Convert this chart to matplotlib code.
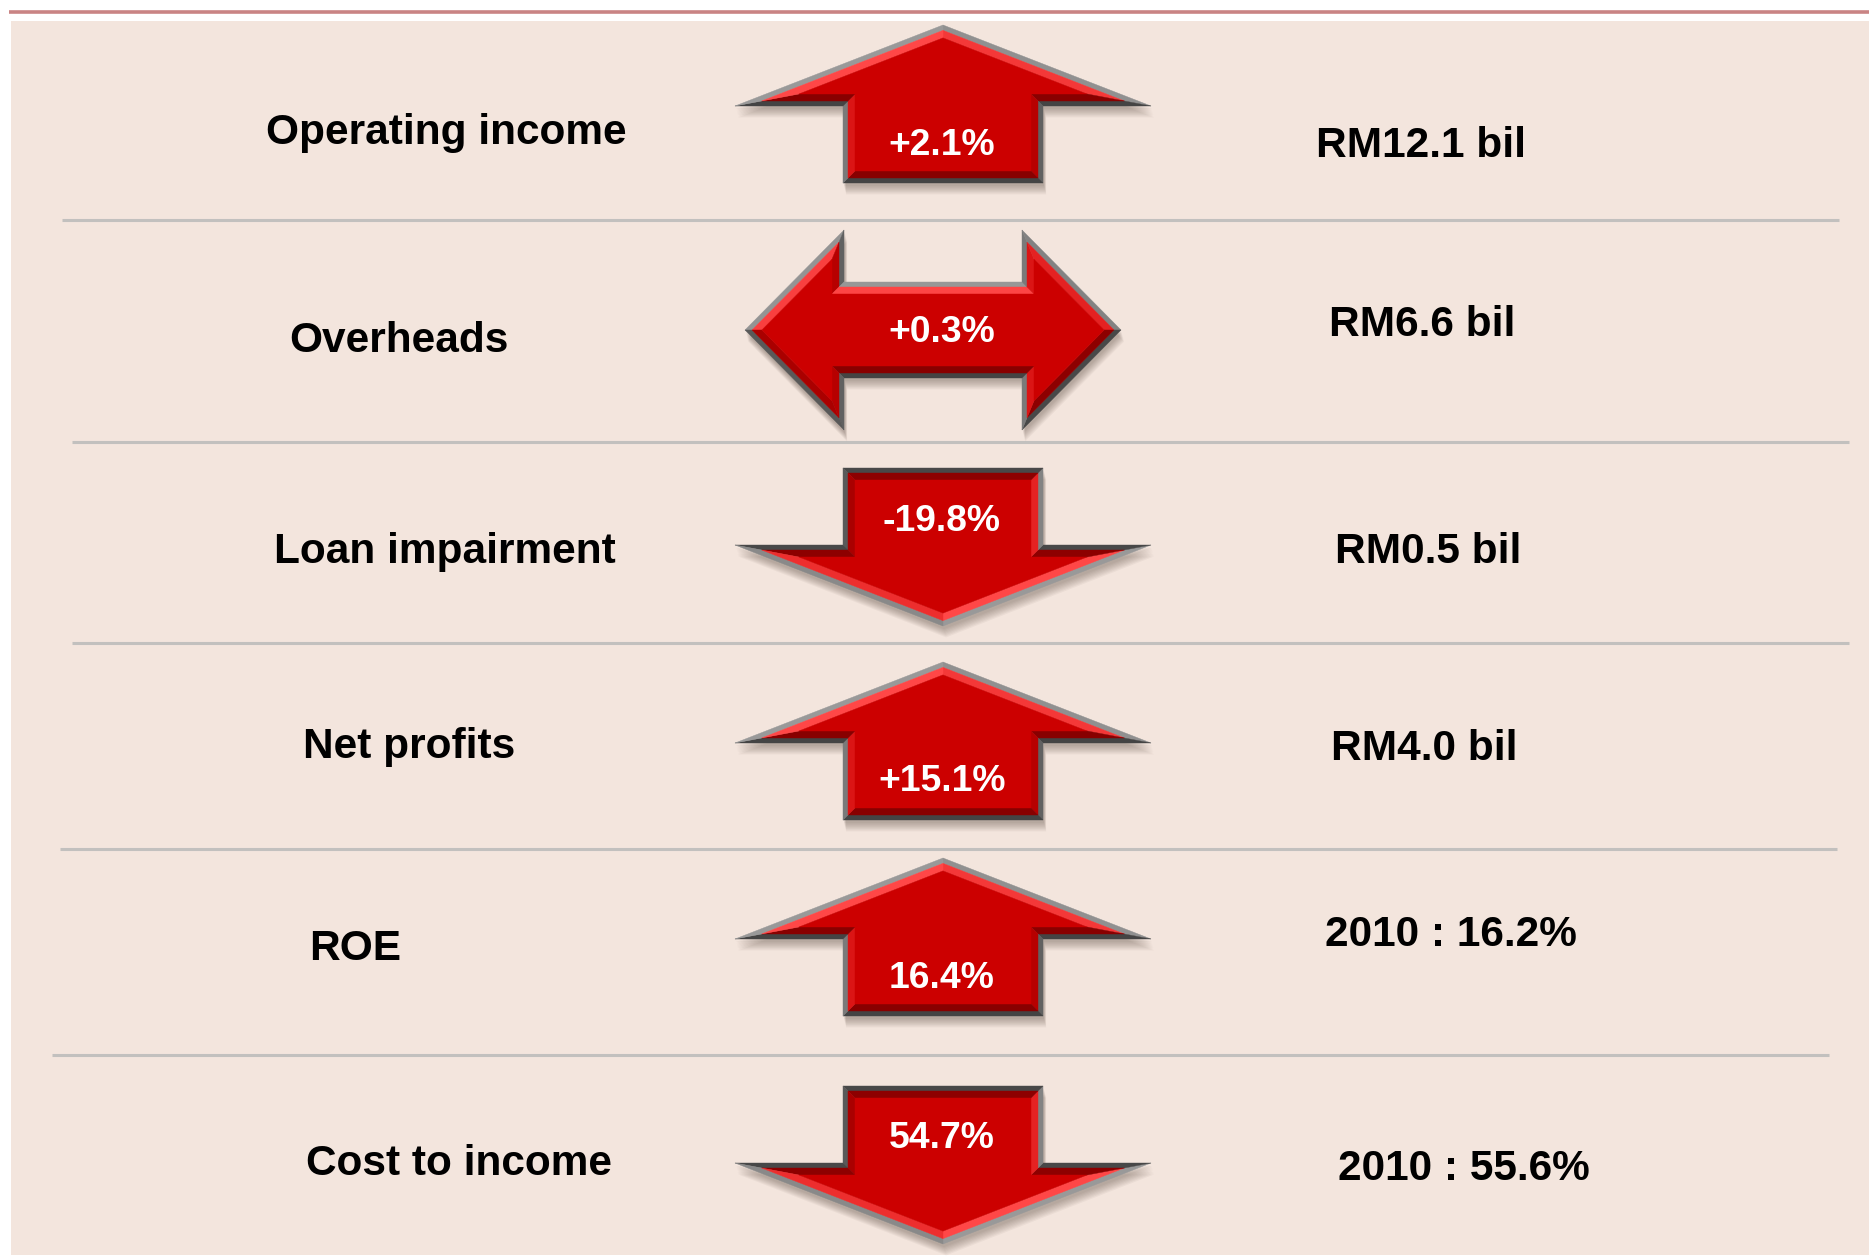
import numpy as np
import matplotlib
matplotlib.use("Agg")
import matplotlib.pyplot as plt
from matplotlib.patches import Polygon, Rectangle

plt.rcParams["font.family"] = ["Liberation Sans", "DejaVu Sans"]

# ── data ──
metrics = ["Operating income", "Overheads", "Loan impairment",
           "Net profits", "ROE", "Cost to income"]
changes = ["+2.1%", "+0.3%", "-19.8%", "+15.1%", "16.4%", "54.7%"]
directions = ["up", "both", "down", "up", "up", "down"]
values = ["RM12.1 bil", "RM6.6 bil", "RM0.5 bil", "RM4.0 bil",
          "2010 : 16.2%", "2010 : 55.6%"]

# ── layout (pixel coords, y downwards) ──
W, H = 1869, 1259
arrow_cx = [943, 933, 943, 943, 943, 943]
arrow_cy = [104, 330, 547, 741, 937, 1165]
label_xy = [(446, 133), (399, 341), (445, 552), (409, 747), (355, 949), (459, 1164)]
value_xy = [(1421, 146), (1422, 325), (1428, 552), (1424, 749), (1451, 935), (1464, 1169)]
pct_y = [145, 332, 521, 781, 978, 1139]
sep_y = [220, 442, 643, 849, 1055]
sep_x = [(62, 1839), (72, 1849), (72, 1849), (60, 1837), (52, 1829)]

BG = "#F3E5DD"
RED = np.array([0.80, 0.0, 0.0])


def arrow_shape(kind, cx, cy):
    if kind == "both":
        L, hl, hh, sh = 188, 99, 100, 48
        return np.array([
            (cx - L, cy), (cx - L + hl, cy - hh), (cx - L + hl, cy - sh),
            (cx + L - hl, cy - sh), (cx + L - hl, cy - hh), (cx + L, cy),
            (cx + L - hl, cy + hh), (cx + L - hl, cy + sh),
            (cx - L + hl, cy + sh), (cx - L + hl, cy + hh)])
    hw, sw, hh, tot = 208, 100, 81, 158
    top = cy - tot / 2
    pts = np.array([
        (cx, top), (cx + hw, top + hh), (cx + sw, top + hh), (cx + sw, top + tot),
        (cx - sw, top + tot), (cx - sw, top + hh), (cx - hw, top + hh)])
    if kind == "down":
        pts[:, 1] = 2 * cy - pts[:, 1]
    return pts


def offset(pts, d):
    # inward miter offset of a simple polygon
    n = len(pts)
    x, y = pts[:, 0], pts[:, 1]
    area = 0.5 * np.sum(x * np.roll(y, -1) - np.roll(x, -1) * y)
    s = np.sign(area)
    lines = []
    for i in range(n):
        p, q = pts[i], pts[(i + 1) % n]
        e = (q - p) / np.linalg.norm(q - p)
        nin = s * np.array([-e[1], e[0]])
        lines.append((p + nin * d, e))
    out = []
    for i in range(n):
        p1, e1 = lines[i - 1]
        p2, e2 = lines[i]
        A = np.array([e1, -e2]).T
        t = np.linalg.solve(A, p2 - p1)
        out.append(p1 + e1 * t[0])
    return np.array(out), s


def shade(p, q, s, light):
    e = (q - p) / np.linalg.norm(q - p)
    nout = -s * np.array([-e[1], e[0]])
    return float(np.dot(nout, light))


def draw_arrow(ax, kind, cx, cy, text, ty):
    outer = arrow_shape(kind, cx, cy)
    # the down arrow is the up arrow turned round, so its lighting turns too
    light = np.array([-0.3, -1.0]) if kind != "down" else np.array([0.55, 1.0])
    light /= np.linalg.norm(light)
    # soft drop shadow
    for k in range(8):
        sh = outer + np.array([1.0 + 0.3 * k, 3.0 + 1.2 * k])
        ax.add_patch(Polygon(sh, closed=True, facecolor="#4a3a30",
                             edgecolor="none", alpha=0.05, zorder=2))
    mid, s = offset(outer, 5)
    inner, _ = offset(outer, 12)
    n = len(outer)
    for i in range(n):
        j = (i + 1) % n
        v = shade(outer[i], outer[j], s, light)
        g = 0.43 + 0.17 * v
        ax.add_patch(Polygon([outer[i], outer[j], mid[j], mid[i]], closed=True,
                             facecolor=(g, g, g), edgecolor=(g, g, g),
                             linewidth=0.3, zorder=3))
        if v > 0:
            c = RED + (np.array([1.0, 0.28, 0.28]) - RED) * v
        else:
            c = RED + (np.array([0.52, 0.0, 0.0]) - RED) * (-v)
        ax.add_patch(Polygon([mid[i], mid[j], inner[j], inner[i]], closed=True,
                             facecolor=c, edgecolor=c, linewidth=0.3, zorder=3))
    ax.add_patch(Polygon(inner, closed=True, facecolor=RED, edgecolor=RED,
                         linewidth=0.3, zorder=4))
    ax.text(cx + (9 if kind == "both" else -1), ty, text, color="white",
            fontsize=26.8, fontweight="bold", ha="center", va="center", zorder=5)


fig = plt.figure(figsize=(W / 100, H / 100), dpi=100)
fig.patch.set_facecolor("white")
ax = fig.add_axes([0, 0, 1, 1])
ax.set_xlim(0, W)
ax.set_ylim(H, 0)
ax.axis("off")

ax.add_patch(Rectangle((11, 21), W - 11, 1234, facecolor=BG, edgecolor="none", zorder=0))
ax.plot([9, W], [11.5, 11.5], color="#C98484", linewidth=2.6, solid_capstyle="butt", zorder=1)

for (x0, x1), y in zip(sep_x, sep_y):
    ax.plot([x0, x1], [y, y], color="#C2C0BE", linewidth=2.2, solid_capstyle="butt", zorder=1)

for i in range(len(metrics)):
    draw_arrow(ax, directions[i], arrow_cx[i], arrow_cy[i], changes[i], pct_y[i])
    lx, ly = label_xy[i]
    ax.text(lx, ly, metrics[i], fontsize=30.5, fontweight="bold", color="black",
            ha="center", va="center", zorder=5)
    vx, vy = value_xy[i]
    ax.text(vx, vy, values[i], fontsize=30.5, fontweight="bold", color="black",
            ha="center", va="center", zorder=5)

fig.savefig("out.png", dpi=100, facecolor=fig.get_facecolor())
